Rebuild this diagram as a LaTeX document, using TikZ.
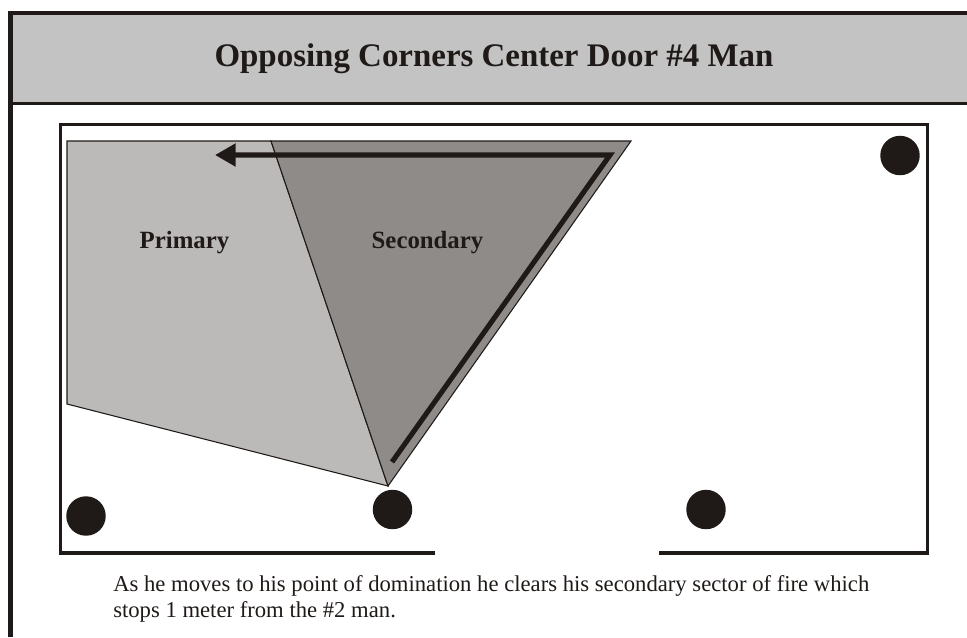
\documentclass[tikz,border=0pt]{standalone}
\usepackage{fontspec}
\setmainfont{Liberation Serif}
\usepackage{xcolor}
\usetikzlibrary{arrows.meta, positioning}
\definecolor{inkdark}{HTML}{1F1A17}
\definecolor{headgray}{HTML}{C3C3C3}
\definecolor{primgray}{HTML}{BBBAB8}
\definecolor{secgray}{HTML}{8F8B89}

\begin{document}
\begin{tikzpicture}[x=0.75pt, y=-0.75pt,
    sector/.style={draw=inkdark, line width=0.8pt, line join=miter},
    wall/.style={draw=inkdark, line width=2.5pt},
    man/.style={circle, fill=inkdark, minimum size=29.6pt, inner sep=0pt},
    lbl/.style={font=\fontsize{18.6pt}{20pt}\selectfont\bfseries, text=inkdark, anchor=base},
    route/.style={draw=inkdark, line width=3.8pt, line join=miter, -{Triangle[length=15.5pt, width=16.5pt]}},
]
\useasboundingbox (0,0) rectangle (967,637);

% header band and page frame
\fill[headgray] (10,13) rectangle (967,104);
\draw[draw=inkdark, line width=2.6pt] (8,12.8) -- (967,12.8);
\draw[draw=inkdark, line width=2.7pt] (10,103.5) -- (967,103.5);
\draw[draw=inkdark, line width=3.5pt] (10.3,637) -- (10.3,11);
\node[font=\fontsize{24.7pt}{28pt}\selectfont\bfseries, text=inkdark, anchor=base] (title) at (494,66) {Opposing Corners Center Door \#4 Man};

% room
\draw[wall] (435,553) -- (60.5,553) -- (60.5,124.5) -- (927.5,124.5) -- (927.5,553) -- (659,553);

% sectors
\coordinate (apex) at (388,486);
\coordinate (split) at (271,141);
\draw[sector, fill=primgray] (67,141) -- (split) -- (apex) -- (67,404) -- cycle;
\draw[sector, fill=secgray] (split) -- (631,141) -- (apex) -- cycle;
\node[lbl] (primary) at (184.5,248) {Primary};
\node[lbl] (secondary) at (427.5,248) {Secondary};

% path of the man
\coordinate (routeA) at (392,462);
\coordinate (routeB) at (610,155);
\coordinate (routeC) at (215,155);
\draw[route] (routeA) -- (routeB) -- (routeC);

% men
\node[man] (manA) at (900,155.5) {};
\node[man] (manB) at (86,516) {};
\node[man] (manC) at (392.5,509.5) {};
\node[man] (manD) at (706,509.5) {};

\node[font=\fontsize{17pt}{19.5pt}\selectfont, text=inkdark, align=left, anchor=north west, inner sep=0pt] (caption) at (113,575)
    {As he moves to his point of domination he clears his secondary sector of fire which\\stops 1 meter from the \#2 man.};

\end{tikzpicture}
\end{document}
